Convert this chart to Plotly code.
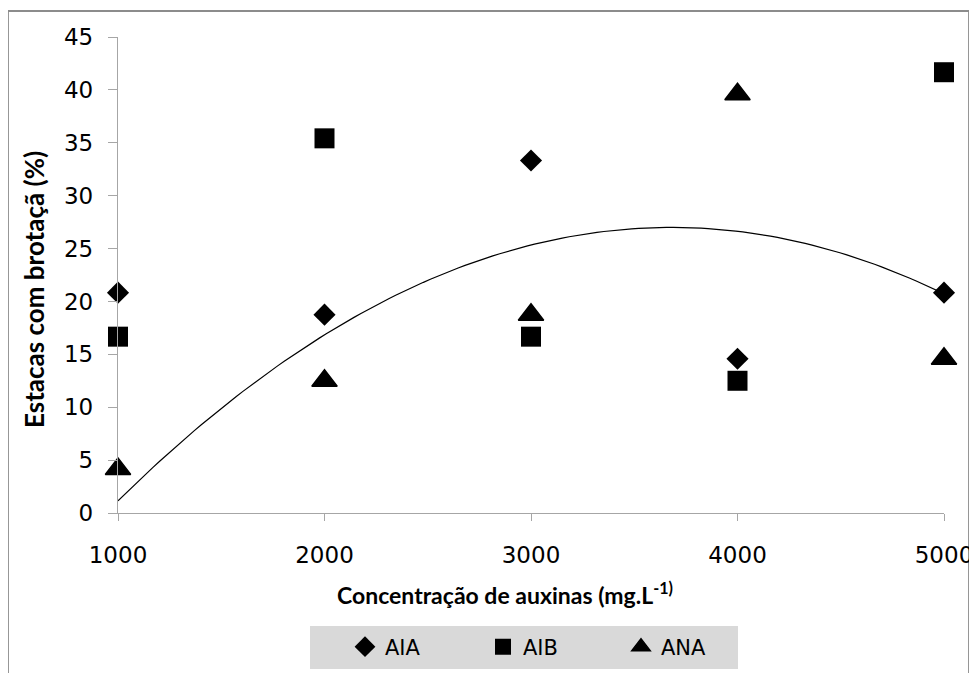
import numpy as np
import plotly.graph_objects as go

# ---- data ----
concentracao = [1000, 2000, 3000, 4000, 5000]
aia = [20.83, 18.75, 33.33, 14.58, 20.83]
aib = [16.67, 35.42, 16.67, 12.50, 41.67]
ana = [4.17, 12.50, 18.75, 39.58, 14.58]
# polynomial (2nd order) trendline coefficients: c0 + c1*x + c2*x^2
trend_coef = [-21.753, 0.026496, -3.6e-6]

x_title = "Concentração de auxinas (mg.L<sup>-1)</sup>"
y_title = "Estacas com brotaçã (%)"
x_ticks = [1000, 2000, 3000, 4000, 5000]
y_ticks = [0, 5, 10, 15, 20, 25, 30, 35, 40, 45]

# page body has an 8px margin: figure is sized to fill the window from (8, 8)
W, H = 969, 665
L, T = 110, 29
PW, PH = 826, 476
R, B = W - L - PW, H - T - PH

# window-pixel -> paper coordinate helpers (plot area spans window x 118..944, y 37..513)
def px_x(p):
    return (p - 118) / PW


def px_y(p):
    return (513 - p) / PH


fig = go.Figure()

xt = np.linspace(min(concentracao), max(concentracao), 120)
yt = trend_coef[0] + trend_coef[1] * xt + trend_coef[2] * xt ** 2
fig.add_trace(go.Scatter(x=xt, y=yt, mode="lines", line=dict(color="black", width=1.2),
                         showlegend=False, hoverinfo="skip", cliponaxis=False))

fig.add_trace(go.Scatter(x=concentracao, y=aia, mode="markers", name="AIA", cliponaxis=False,
                         marker=dict(symbol="diamond", size=17, color="black")))
fig.add_trace(go.Scatter(x=concentracao, y=aib, mode="markers", name="AIB", cliponaxis=False,
                         marker=dict(symbol="square", size=20, color="black")))
fig.add_trace(go.Scatter(x=concentracao, y=ana, mode="markers", name="ANA", cliponaxis=False,
                         marker=dict(symbol="triangle-up", size=22, color="black",
                                     line=dict(color="black", width=1.5))))

axis_common = dict(showgrid=False, zeroline=False, showline=True, linecolor="#a6a6a6",
                   linewidth=1.3, ticks="outside", tickcolor="#a6a6a6", tickwidth=1.3,
                   automargin=False,
                   tickfont=dict(family="DejaVu Sans", size=23, color="black"))

fig.update_xaxes(range=[1000, 5000], tickvals=x_ticks, ticklen=7,
                 ticklabelstandoff=14, **axis_common)
fig.update_yaxes(range=[0, 45], tickvals=y_ticks, ticklen=9,
                 ticklabelstandoff=10, **axis_common)

fig.update_layout(
    width=W, height=H,
    margin=dict(l=L, r=R, t=T, b=B, autoexpand=False),
    paper_bgcolor="white", plot_bgcolor="white",
    showlegend=True,
    legend=dict(orientation="h", x=px_x(345), xanchor="left", y=px_y(647), yanchor="middle",
                bgcolor="rgba(0,0,0,0)", entrywidth=93, entrywidthmode="pixels",
                font=dict(family="DejaVu Sans", size=21, color="black"),
                itemsizing="trace"),
    shapes=[
        dict(type="rect", xref="paper", yref="paper",
             x0=px_x(8), x1=px_x(969), y0=px_y(700), y1=px_y(11),
             line=dict(color="#8c8c8c", width=1.8), fillcolor="rgba(0,0,0,0)", layer="below"),
        dict(type="rect", xref="paper", yref="paper",
             x0=px_x(310), x1=px_x(738), y0=px_y(669), y1=px_y(626),
             line=dict(width=0), fillcolor="#d9d9d9", layer="below"),
    ],
    annotations=[
        dict(text=x_title, xref="paper", yref="paper", x=px_x(505), y=px_y(593),
             xanchor="center", yanchor="middle", showarrow=False,
             font=dict(family="Lato", size=23, color="black", weight="bold")),
        dict(text=y_title, xref="paper", yref="paper", x=px_x(34), y=px_y(290),
             xanchor="center", yanchor="middle", showarrow=False, textangle=-90,
             font=dict(family="Lato", size=26, color="black", weight="bold")),
    ],
)

fig.write_html("out.html")
